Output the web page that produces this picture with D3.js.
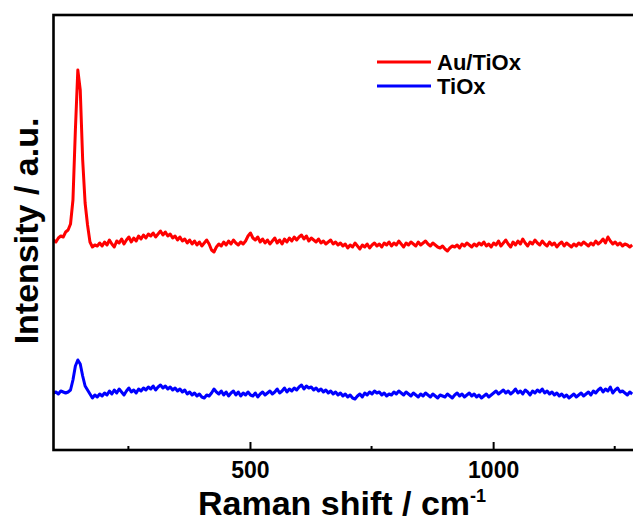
<!DOCTYPE html>
<html>
<head>
<meta charset="utf-8">
<script src="https://cdn.jsdelivr.net/npm/d3@7"></script>
<style>
  body { margin: 0; background: #fff; }
  svg text { font-family: "Liberation Sans", Arial, sans-serif; font-weight: bold; }
</style>
</head>
<body>
<div class="canvas"></div>
<script>
// raman shift grid (cm-1), sampled every 5
const shiftStart = 96
const shiftStep = 5

// intensities (a.u.)
const auTiOx = [
  210, 208, 212, 214, 213, 218, 220, 226, 250, 320, 380, 360, 290, 247, 225, 208, 203, 205, 204, 207,
  204, 208, 205, 210, 206, 203, 209, 207, 211, 206, 210, 213, 208, 212, 209, 214, 211, 215, 212, 216,
  214, 217, 213, 216, 219, 215, 218, 214, 216, 212, 214, 210, 213, 209, 211, 207, 210, 206, 209, 205,
  208, 204, 207, 210, 206, 200, 198, 203, 206, 204, 208, 205, 209, 206, 210, 207, 205, 208, 206, 209,
  214, 217, 212, 210, 213, 208, 211, 207, 210, 206, 209, 212, 207, 210, 206, 211, 208, 212, 209, 213,
  210, 213, 215, 211, 214, 209, 212, 210, 208, 211, 207, 209, 206, 208, 210, 206, 208, 205, 207, 204,
  206, 202, 205, 203, 207, 204, 201, 205, 203, 206, 202, 205, 207, 204, 206, 203, 207, 205, 208, 204,
  207, 205, 209, 206, 203, 207, 205, 208, 206, 204, 208, 205, 207, 209, 206, 204, 207, 205, 203, 202,
  204, 201, 199, 202, 204, 203, 205, 202, 206, 204, 207, 205, 203, 206, 204, 207, 205, 208, 204, 206,
  203, 207, 205, 209, 204, 207, 210, 206, 203, 208, 205, 209, 206, 211, 207, 204, 208, 206, 210, 207,
  205, 209, 206, 204, 208, 205, 207, 203, 206, 208, 204, 207, 205, 203, 206, 204, 207, 205, 208, 206,
  204, 207, 205, 209, 206, 208, 211, 207, 213, 209, 206, 208, 205, 207, 204, 206, 205, 203, 205
]
const tiOx = [
  57, 58, 56, 59, 58, 57, 58, 60, 70, 84, 90, 86, 74, 64, 60, 56, 52, 55, 53, 56,
  54, 57, 55, 59, 56, 60, 57, 61, 58, 55, 59, 62, 58, 60, 57, 61, 59, 62, 60, 63,
  61, 64, 60, 63, 65, 62, 64, 61, 63, 60, 62, 59, 61, 58, 60, 56, 58, 55, 57, 54,
  56, 53, 52, 55, 54, 57, 61, 58, 56, 59, 55, 58, 54, 57, 59, 55, 58, 54, 57, 55,
  58, 55, 54, 57, 53, 56, 58, 55, 57, 59, 56, 58, 61, 57, 59, 62, 58, 61, 59, 62,
  60, 63, 65, 61, 64, 62, 63, 60, 62, 59, 61, 58, 60, 57, 59, 56, 58, 55, 57, 54,
  56, 53, 55, 52, 51, 54, 56, 53, 57, 55, 58, 56, 59, 57, 58, 55, 57, 54, 56, 55,
  58, 56, 59, 57, 55, 58, 56, 54, 57, 55, 53, 56, 54, 57, 55, 53, 56, 54, 52, 55,
  54, 53, 56, 54, 52, 55, 57, 54, 56, 53, 55, 57, 54, 56, 53, 55, 52, 54, 56, 53,
  55, 57, 59, 56, 58, 60, 57, 59, 56, 58, 61, 57, 59, 56, 60, 58, 55, 59, 57, 60,
  58, 61, 57, 59, 56, 58, 55, 57, 54, 56, 53, 55, 52, 54, 56, 53, 55, 57, 54, 56,
  58, 55, 59, 57, 60, 62, 58, 61, 59, 63, 57, 60, 62, 58, 59, 57, 55, 58, 56
]
const majorTicks = [500, 1000]
const minorTicks = [250, 750, 1250]
const seriesNames = ['Au/TiOx', 'TiOx']
const seriesColors = ['#ff0000', '#0000ff']

const width = 633
const height = 523
const mLeft = 53.5, mTop = 15, mBottom = 450, mRight = 640

const svg = d3.select('.canvas').append('svg')
    .attr('width', width)
    .attr('height', height)

const x = d3.scaleLinear().domain([96, 1302]).range([mLeft, mRight])
const y = d3.scaleLinear().domain([0, 435]).range([mBottom, mTop])

const shifts = d3.range(auTiOx.length).map(i => shiftStart + i * shiftStep)

const line = d3.line()
    .x((d, i) => x(shifts[i]))
    .y(d => y(d))

const clip = svg.append('clipPath').attr('id', 'plot')
clip.append('rect')
    .attr('x', mLeft).attr('y', mTop)
    .attr('width', mRight - mLeft).attr('height', mBottom - mTop)

const plot = svg.append('g').attr('clip-path', 'url(#plot)')

;[auTiOx, tiOx].forEach((s, k) => {
  plot.append('path')
      .attr('d', line(s))
      .attr('fill', 'none')
      .attr('stroke', seriesColors[k])
      .attr('stroke-width', 3)
      .attr('stroke-linejoin', 'round')
})

// frame
svg.append('rect')
    .attr('x', mLeft).attr('y', mTop)
    .attr('width', mRight - mLeft).attr('height', mBottom - mTop)
    .attr('fill', 'none')
    .attr('stroke', '#000')
    .attr('stroke-width', 2.6)

// x axis, ticks pointing in
const xAxis = d3.axisBottom(x)
    .tickValues(majorTicks)
    .tickSize(-8)
    .tickPadding(12)
    .tickFormat(d3.format('d'))

const gx = svg.append('g')
    .attr('transform', `translate(0,${mBottom})`)
    .call(xAxis)
gx.select('.domain').remove()
gx.selectAll('.tick line').attr('stroke', '#000').attr('stroke-width', 2)
gx.selectAll('.tick text')
    .attr('fill', '#000')
    .style('font-size', '23px')
    .style('font-family', '"Liberation Sans", Arial, sans-serif')
    .style('font-weight', 'bold')

gx.selectAll('.minor')
    .data(minorTicks)
    .enter().append('line')
    .attr('x1', d => x(d)).attr('x2', d => x(d))
    .attr('y1', 0).attr('y2', -4)
    .attr('stroke', '#000')
    .attr('stroke-width', 2)

// axis titles
const xt = svg.append('text')
    .attr('x', 198)
    .attr('y', 515)
    .style('font-size', '34px')
    .attr('fill', '#000')
xt.append('tspan').text('Raman shift / cm')
xt.append('tspan').attr('dy', -13).style('font-size', '18px').text('-1')

svg.append('text')
    .attr('transform', 'translate(38,231) rotate(-90)')
    .attr('text-anchor', 'middle')
    .style('font-size', '34px')
    .attr('fill', '#000')
    .text('Intensity / a.u.')

// legend
const legend = svg.append('g')
seriesNames.forEach((name, k) => {
  const ly = 62 + k * 24
  legend.append('line')
      .attr('x1', 377).attr('x2', 431)
      .attr('y1', ly).attr('y2', ly)
      .attr('stroke', seriesColors[k])
      .attr('stroke-width', 3)
  legend.append('text')
      .attr('x', 437)
      .attr('y', ly + 8)
      .style('font-size', '22px')
      .attr('fill', '#000')
      .text(name)
})
</script>
</body>
</html>
